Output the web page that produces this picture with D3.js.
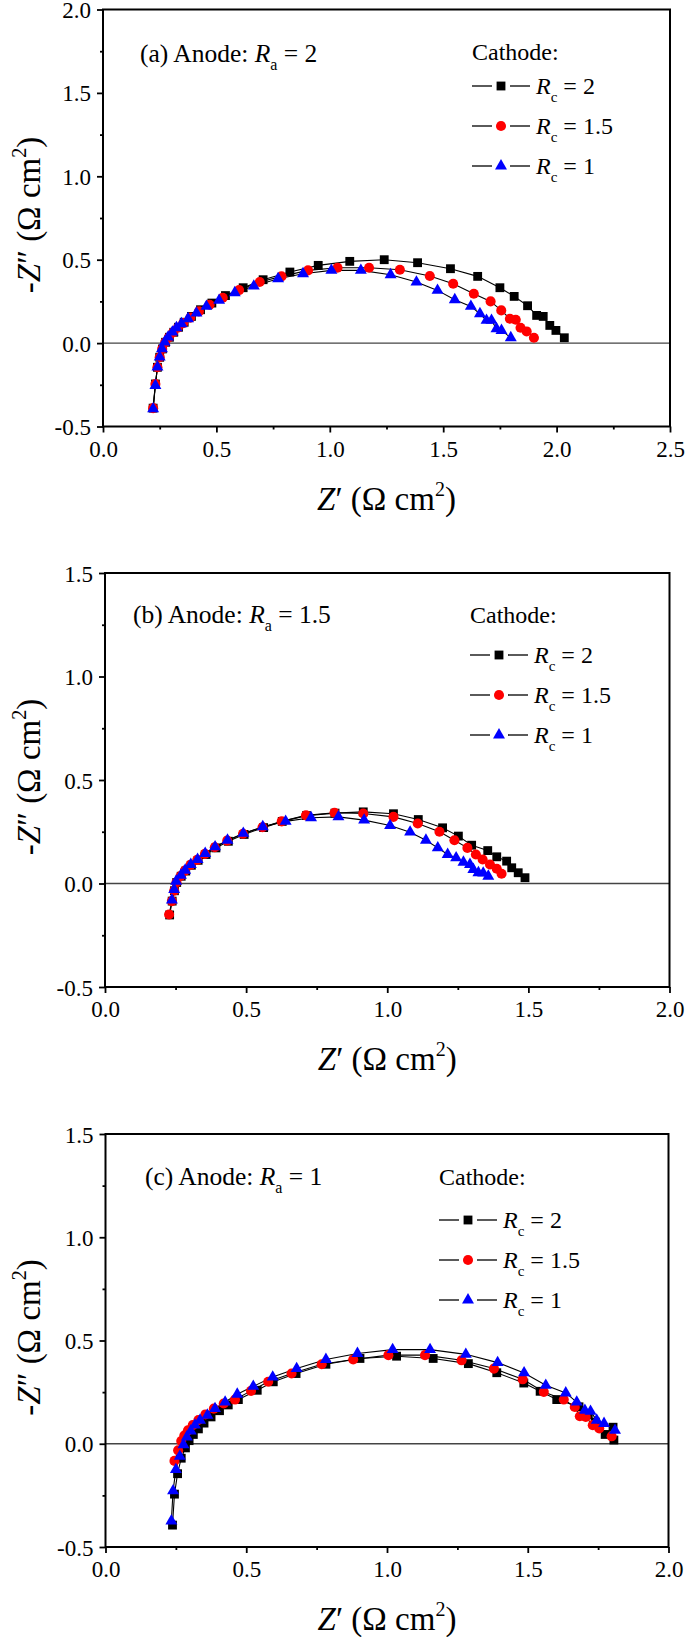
<!DOCTYPE html>
<html><head><meta charset="utf-8">
<script src="https://cdn.jsdelivr.net/npm/d3@7"></script>
<style>html,body{margin:0;padding:0;background:#fff;} svg{display:block;}</style>
</head><body>
<svg id="chart" width="685" height="1637"></svg>
<script>
// ---------------- DATA ----------------
const cathodeLabels = ["2", "1.5", "1"];
const panelTags = ["(a)", "(b)", "(c)"];
const anodeValues = ["2", "1.5", "1"];
const xTicksA = [0, 0.5, 1.0, 1.5, 2.0, 2.5];
const xTicksBC = [0, 0.5, 1.0, 1.5, 2.0];
const yTicksA = [-0.5, 0, 0.5, 1.0, 1.5, 2.0];
const yTicksBC = [-0.5, 0, 0.5, 1.0, 1.5];

// Panel (a): Anode Ra = 2   [Z', -Z'']
const a_Rc2 = [[0.221,-0.39],[0.231,-0.245],[0.24,-0.145],[0.25,-0.085],[0.262,-0.035],[0.276,0.005],[0.293,0.035],[0.312,0.065],[0.333,0.095],[0.358,0.125],[0.39,0.16],[0.43,0.2],[0.48,0.24],[0.54,0.285],[0.618,0.332],[0.706,0.38],[0.824,0.426],[0.949,0.466],[1.088,0.49],[1.24,0.5],[1.387,0.482],[1.532,0.446],[1.652,0.4],[1.75,0.332],[1.813,0.28],[1.872,0.224],[1.912,0.166],[1.941,0.16],[1.97,0.106],[1.997,0.076],[2.034,0.032]];
const a_Rc15 = [[0.221,-0.39],[0.231,-0.245],[0.24,-0.145],[0.25,-0.085],[0.261,-0.035],[0.274,0.004],[0.29,0.034],[0.309,0.064],[0.33,0.092],[0.354,0.12],[0.385,0.153],[0.423,0.19],[0.47,0.23],[0.528,0.272],[0.6,0.318],[0.691,0.366],[0.787,0.4],[0.904,0.436],[1.034,0.452],[1.173,0.452],[1.309,0.44],[1.441,0.402],[1.544,0.356],[1.635,0.296],[1.709,0.25],[1.756,0.196],[1.794,0.146],[1.82,0.14],[1.841,0.092],[1.868,0.07],[1.9,0.032]];
const a_Rc1 = [[0.221,-0.394],[0.231,-0.254],[0.24,-0.144],[0.25,-0.084],[0.26,-0.034],[0.272,0.006],[0.287,0.036],[0.306,0.066],[0.324,0.092],[0.346,0.116],[0.375,0.146],[0.412,0.18],[0.456,0.22],[0.512,0.256],[0.581,0.302],[0.665,0.342],[0.772,0.386],[0.882,0.416],[1.007,0.436],[1.137,0.436],[1.268,0.41],[1.382,0.366],[1.475,0.316],[1.551,0.26],[1.622,0.22],[1.662,0.176],[1.691,0.136],[1.713,0.136],[1.735,0.086],[1.757,0.076],[1.798,0.032]];

// Panel (b): Anode Ra = 1.5
const b_Rc2 = [[0.229,-0.152],[0.238,-0.085],[0.246,-0.035],[0.254,0.005],[0.27,0.035],[0.286,0.06],[0.306,0.088],[0.33,0.112],[0.358,0.14],[0.393,0.172],[0.437,0.204],[0.493,0.237],[0.562,0.27],[0.628,0.3],[0.714,0.328],[0.815,0.34],[0.915,0.346],[1.022,0.337],[1.11,0.309],[1.196,0.269],[1.252,0.229],[1.299,0.185],[1.356,0.159],[1.388,0.129],[1.423,0.108],[1.441,0.076],[1.464,0.052],[1.488,0.028]];
const b_Rc15 = [[0.227,-0.15],[0.237,-0.085],[0.245,-0.035],[0.253,0.005],[0.268,0.036],[0.283,0.062],[0.303,0.09],[0.327,0.114],[0.354,0.143],[0.389,0.175],[0.433,0.207],[0.489,0.24],[0.558,0.272],[0.626,0.3],[0.712,0.329],[0.813,0.342],[0.915,0.338],[1.022,0.322],[1.108,0.29],[1.185,0.25],[1.238,0.209],[1.284,0.172],[1.314,0.14],[1.338,0.116],[1.364,0.092],[1.388,0.071],[1.405,0.047]];
const b_Rc1 = [[0.237,-0.08],[0.245,-0.029],[0.252,0.011],[0.269,0.04],[0.284,0.064],[0.304,0.092],[0.328,0.116],[0.355,0.145],[0.39,0.177],[0.434,0.209],[0.49,0.242],[0.559,0.274],[0.64,0.3],[0.73,0.318],[0.827,0.322],[0.918,0.306],[1.01,0.28],[1.081,0.248],[1.137,0.209],[1.179,0.172],[1.214,0.14],[1.244,0.124],[1.27,0.103],[1.293,0.092],[1.305,0.068],[1.323,0.052],[1.34,0.05],[1.358,0.035]];

// Panel (c): Anode Ra = 1
const c_Rc2 = [[0.238,-0.394],[0.245,-0.244],[0.256,-0.145],[0.269,-0.07],[0.284,-0.02],[0.297,0.015],[0.312,0.045],[0.33,0.072],[0.35,0.1],[0.375,0.13],[0.405,0.16],[0.436,0.188],[0.472,0.214],[0.539,0.259],[0.596,0.3],[0.677,0.34],[0.783,0.385],[0.904,0.413],[1.034,0.424],[1.164,0.413],[1.289,0.388],[1.39,0.344],[1.486,0.294],[1.544,0.254],[1.603,0.214],[1.682,0.179],[1.715,0.14],[1.74,0.105],[1.775,0.045],[1.803,0.08],[1.806,0.018]];
const c_Rc15 = [[0.245,-0.083],[0.258,-0.032],[0.269,0.013],[0.28,0.04],[0.293,0.065],[0.31,0.09],[0.33,0.115],[0.355,0.142],[0.385,0.17],[0.42,0.195],[0.46,0.214],[0.517,0.256],[0.578,0.3],[0.661,0.34],[0.768,0.385],[0.88,0.408],[1.005,0.429],[1.135,0.429],[1.265,0.404],[1.38,0.364],[1.482,0.312],[1.557,0.251],[1.628,0.214],[1.667,0.178],[1.685,0.133],[1.706,0.13],[1.731,0.09],[1.754,0.074],[1.798,0.036]];
const c_Rc1 = [[0.234,-0.374],[0.24,-0.228],[0.25,-0.125],[0.264,-0.061],[0.277,-0.005],[0.289,0.033],[0.303,0.062],[0.318,0.09],[0.336,0.114],[0.362,0.138],[0.389,0.17],[0.425,0.202],[0.468,0.24],[0.525,0.278],[0.594,0.323],[0.679,0.364],[0.783,0.408],[0.895,0.437],[1.02,0.456],[1.153,0.456],[1.28,0.433],[1.393,0.393],[1.487,0.343],[1.564,0.283],[1.635,0.246],[1.674,0.202],[1.703,0.162],[1.723,0.157],[1.745,0.114],[1.771,0.098],[1.81,0.065]];

// ---------------- STYLE / LAYOUT ----------------
const FONT = "'Liberation Serif','Times New Roman',Times,serif";
const seriesStyle = [
  {color: "#000000", symbol: d3.symbolSquare, size: 78},
  {color: "#ff0000", symbol: d3.symbolCircle, size: 80},
  {color: "#0000ff", symbol: d3.symbolTriangle, size: 62}
];

const panels = [
  {tag: panelTags[0], anode: anodeValues[0], series: [a_Rc2, a_Rc15, a_Rc1],
   xDom: [0, 2.5], yDom: [-0.5, 2.0], xTicks: xTicksA, yTicks: yTicksA,
   left: 103, right: 670, top: 9.5, bottom: 426.5,
   annX: 140, annY: 62, legX: 472, legTitleY: 60, legRow0: 86},
  {tag: panelTags[1], anode: anodeValues[1], series: [b_Rc2, b_Rc15, b_Rc1],
   xDom: [0, 2.0], yDom: [-0.5, 1.5], xTicks: xTicksBC, yTicks: yTicksBC,
   left: 105, right: 669.5, top: 573, bottom: 987,
   annX: 133, annY: 623, legX: 470, legTitleY: 623, legRow0: 655},
  {tag: panelTags[2], anode: anodeValues[2], series: [c_Rc2, c_Rc15, c_Rc1],
   xDom: [0, 2.0], yDom: [-0.5, 1.5], xTicks: xTicksBC, yTicks: yTicksBC,
   left: 105.5, right: 668.5, top: 1134, bottom: 1547,
   annX: 145, annY: 1185, legX: 439, legTitleY: 1185, legRow0: 1220}
];

const svg = d3.select("#chart");
svg.append("rect").attr("width", 685).attr("height", 1637).attr("fill", "#fff");

const fmt = v => d3.format(".1f")(v).replace("\u2212", "-");

function minorTicks(dom, step) {
  const out = [];
  for (let v = dom[0]; v <= dom[1] + 1e-9; v += step) out.push(+v.toFixed(4));
  return out;
}

panels.forEach(p => {
  const g = svg.append("g");
  const x = d3.scaleLinear().domain(p.xDom).range([p.left, p.right]);
  const y = d3.scaleLinear().domain(p.yDom).range([p.bottom, p.top]);

  const xMinor = minorTicks(p.xDom, 0.25).filter(v => !p.xTicks.some(t => Math.abs(t - v) < 1e-6));
  const yMinor = minorTicks(p.yDom, 0.25).filter(v => !p.yTicks.some(t => Math.abs(t - v) < 1e-6));

  const xa = g.append("g").attr("transform", `translate(0,${p.bottom})`)
    .call(d3.axisBottom(x).tickValues(p.xTicks).tickSize(6).tickPadding(8).tickFormat(fmt));
  const xm = g.append("g").attr("transform", `translate(0,${p.bottom})`)
    .call(d3.axisBottom(x).tickValues(xMinor).tickSize(3).tickFormat(""));
  const ya = g.append("g").attr("transform", `translate(${p.left},0)`)
    .call(d3.axisLeft(y).tickValues(p.yTicks).tickSize(6).tickPadding(6).tickFormat(fmt));
  const ym = g.append("g").attr("transform", `translate(${p.left},0)`)
    .call(d3.axisLeft(y).tickValues(yMinor).tickSize(3).tickFormat(""));
  [xa, xm, ya, ym].forEach(a => {
    a.attr("font-family", FONT).attr("font-size", 23);
    a.select(".domain").remove();
    a.selectAll(".tick line").attr("stroke", "#000").attr("stroke-width", 1.8);
    a.selectAll("text").attr("font-family", FONT).attr("font-size", 23).attr("fill", "#000");
  });
  xa.selectAll("text").attr("dy", "0.71em");
  ya.selectAll("text").attr("dy", "0.35em");

  // zero line
  g.append("line").attr("x1", p.left).attr("x2", p.right)
    .attr("y1", y(0)).attr("y2", y(0)).attr("stroke", "#444").attr("stroke-width", 1.3);

  // frame
  g.append("rect").attr("x", p.left).attr("y", p.top)
    .attr("width", p.right - p.left).attr("height", p.bottom - p.top)
    .attr("fill", "none").attr("stroke", "#000").attr("stroke-width", 2);

  // series
  const line = d3.line().x(d => x(d[0])).y(d => y(d[1]));
  p.series.forEach(data => {
    g.append("path").datum(data).attr("d", line)
      .attr("fill", "none").attr("stroke", "#000").attr("stroke-width", 1.1);
  });
  p.series.forEach((data, i) => {
    const st = seriesStyle[i];
    g.append("g").selectAll("path").data(data).join("path")
      .attr("transform", d => `translate(${x(d[0])},${y(d[1])})`)
      .attr("d", d3.symbol().type(st.symbol).size(st.size))
      .attr("fill", st.color);
  });

  // annotation
  const ann = g.append("text").attr("x", p.annX).attr("y", p.annY)
    .attr("font-family", FONT).attr("font-size", 25.5).attr("fill", "#000");
  ann.append("tspan").text(p.tag + " Anode: ");
  ann.append("tspan").attr("font-style", "italic").text("R");
  ann.append("tspan").attr("font-size", 16).attr("dy", 8).text("a");
  ann.append("tspan").attr("dy", -8).text(" = " + p.anode);

  // legend
  g.append("text").attr("x", p.legX).attr("y", p.legTitleY)
    .attr("font-family", FONT).attr("font-size", 24).attr("fill", "#000").text("Cathode:");
  cathodeLabels.forEach((lab, i) => {
    const cy = p.legRow0 + i * 40;
    const st = seriesStyle[i];
    g.append("line").attr("x1", p.legX).attr("x2", p.legX + 20).attr("y1", cy).attr("y2", cy)
      .attr("stroke", "#000").attr("stroke-width", 1.3);
    g.append("line").attr("x1", p.legX + 38).attr("x2", p.legX + 58).attr("y1", cy).attr("y2", cy)
      .attr("stroke", "#000").attr("stroke-width", 1.3);
    g.append("path").attr("transform", `translate(${p.legX + 29},${cy})`)
      .attr("d", d3.symbol().type(st.symbol).size(st.size)).attr("fill", st.color);
    const t = g.append("text").attr("x", p.legX + 64).attr("y", cy + 8)
      .attr("font-family", FONT).attr("font-size", 24).attr("fill", "#000");
    t.append("tspan").attr("font-style", "italic").text("R");
    t.append("tspan").attr("font-size", 15).attr("dy", 8).text("c");
    t.append("tspan").attr("dy", -8).text(" = " + lab);
  });

  // x axis title
  const xt = g.append("text").attr("x", (p.left + p.right) / 2).attr("y", p.bottom + 83)
    .attr("text-anchor", "middle").attr("font-family", FONT).attr("font-size", 33).attr("fill", "#000");
  xt.append("tspan").attr("font-style", "italic").text("Z");
  xt.append("tspan").text("\u2032 (\u03A9 cm");
  xt.append("tspan").attr("font-size", 20).attr("dy", -14).text("2");
  xt.append("tspan").attr("dy", 14).text(")");

  // y axis title
  const yt = g.append("text")
    .attr("transform", `translate(40,${(p.top + p.bottom) / 2 - 3}) rotate(-90)`)
    .attr("text-anchor", "middle").attr("font-family", FONT).attr("font-size", 33).attr("fill", "#000");
  yt.append("tspan").text("-");
  yt.append("tspan").attr("font-style", "italic").text("Z");
  yt.append("tspan").text("\u2033 (\u03A9 cm");
  yt.append("tspan").attr("font-size", 20).attr("dy", -14).text("2");
  yt.append("tspan").attr("dy", 14).text(")");
});
</script>
</body></html>
